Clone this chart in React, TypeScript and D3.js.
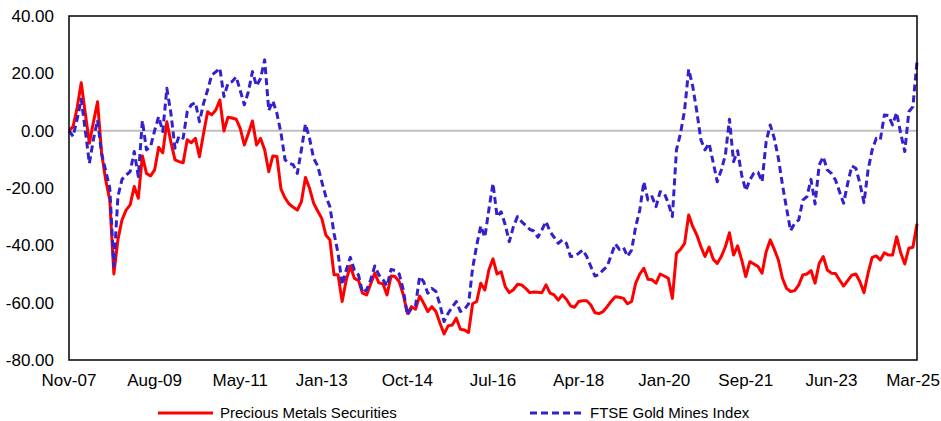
import React from 'react'
import * as d3 from 'd3'

// monthly categories Nov-07 .. Mar-25
const months: string[] = d3.timeMonth
  .range(new Date(2007, 10, 1), new Date(2025, 3, 1))
  .map(d3.timeFormat('%b-%y'))

const tickLabels = ['Nov-07', 'Aug-09', 'May-11', 'Jan-13', 'Oct-14', 'Jul-16', 'Apr-18', 'Jan-20', 'Sep-21', 'Jun-23', 'Mar-25']
const yTicks = [40, 20, 0, -20, -40, -60, -80]

const seriesNames = ['Precious Metals Securities', 'FTSE Gold Mines Index']

const preciousMetals = [
  0, 1.4, 8, 16.7, 6, -4.4, 3, 10.1, -7.9, -17.2,
  -24.2, -50, -38, -31.1, -27.7, -25.9, -19.5, -23.6, -8.8, -14.9,
  -15.8, -13.7, -5.8, -7.7, 3.1, -4, -10.2, -10.8, -11.2, -3.2,
  -4.2, -2.7, -9.1, -1, 6.6, 5.5, 7.2, 10.7, -0.1, 4.7,
  4.4, 4, 0.8, -5, -1, 3.4, -5, -2.7, -6.7, -14.3,
  -8.8, -9, -20.4, -23.5, -25.6, -26.7, -27.7, -24.8, -16.3, -20.1,
  -25.3, -28, -30.6, -36.4, -38.1, -50.3, -50.3, -59.6, -52.1, -47.2,
  -51.5, -52.2, -56.7, -57.3, -53.5, -49.7, -53.1, -53.4, -57.3, -50.7,
  -50.9, -52.7, -57.3, -63.7, -61.4, -62.3, -57.7, -60.2, -63.1, -61.4,
  -63.1, -67.2, -70.9, -68.1, -67.8, -65.4, -69.3, -69.5, -70.4, -60.4,
  -59.6, -53.2, -55.6, -48.5, -44.7, -50, -49.2, -54.4, -56.5, -55.5,
  -53.6, -53.8, -55, -56.5, -56.3, -56.4, -56.5, -53.8, -56.7, -57.3,
  -59.1, -57.3, -58.8, -61.1, -61.6, -59.6, -59.3, -59.3, -60.8, -63.5,
  -63.8, -63.1, -61.4, -59.5, -57.9, -58.1, -58.5, -60.4, -59.6, -53.2,
  -50, -48, -51.8, -52, -53.2, -50, -50.7, -51.5, -58.5, -42.8,
  -41.4, -39.3, -29.4, -33.5, -36.4, -40.5, -43.9, -40.6, -44.8, -46.3,
  -43.9, -40.5, -35.6, -43.4, -40.2, -45.1, -50.9, -45.7, -46.5, -47.4,
  -49.7, -42.2, -38.1, -41.4, -45.1, -51.5, -55, -56.1, -55.8, -53.8,
  -50.3, -50, -48.8, -53.2, -46.3, -43.9, -48.6, -49.7, -49.8, -52.1,
  -54.2, -52.3, -50.4, -50, -52.7, -56.5, -49.7, -44.2, -43.7, -45.1,
  -42.6, -43.4, -43.4, -37, -42.6, -46.5, -41, -40.7, -32.5,
]

const goldMines = [
  0, -2, 4, 11, 0, -11.4, -3, 3.7, -8, -14,
  -20, -47.4, -23, -17, -15.5, -14.3, -7.3, -16, 3.5, -6.7,
  -5.6, 0, 4.9, -0.3, 14.8, 6, -6.1, -1.8, -2.6, 6.6,
  9, 9.8, 3.1, 9.5, 14.2, 19.4, 20.5, 21.8, 11.9, 16.5,
  17.1, 18.8, 14, 9, 13.6, 20.6, 15.6, 18.3, 24.7, 7,
  10.4, 6, -0.9, -10.2, -11.4, -11.9, -14.9, -6.7, 2.3, -2.7,
  -9.6, -12.3, -17.8, -23, -26.5, -35.8, -42.8, -53.8, -48.6, -44.2,
  -48.6, -50.3, -56.5, -55.5, -52, -47.2, -50.3, -51.9, -54.2, -48.4,
  -48.8, -50, -55.6, -64.3, -62, -61, -50.9, -52.7, -56.7, -55,
  -56.1, -60.8, -66.6, -63.7, -61.5, -59.6, -63.1, -62.3, -60.4, -48,
  -40, -33.2, -37.2, -27.4, -18.4, -30, -28.3, -32.9, -38.7, -33.5,
  -30, -31.7, -33, -34.4, -35, -37.2, -34.6, -31.7, -35.2, -37.2,
  -39.3, -38.1, -39.3, -43.9, -43.8, -42.8, -41.6, -43.9, -47.4, -50.7,
  -50.2, -48.6, -47.4, -43.4, -39.5, -41.4, -40.7, -43.9, -41.6, -33.5,
  -27.7, -17.8, -24.2, -23, -26.5, -21.3, -21.8, -25.3, -30, -6.7,
  -0.9, 7.2, 21.4, 15.4, 6.6, -3.2, -6.7, -4.4, -11, -17.8,
  -13.7, -8.5, 4, -10.8, -7, -15.5, -20.9, -17.2, -14.8, -14.5,
  -17.8, -3.8, 2, -2.7, -9.6, -18.9, -27.1, -34.9, -32.3, -31.1,
  -24.2, -23, -17, -25.6, -12, -9.1, -13.7, -14.9, -17.2, -21.3,
  -25.3, -18.4, -12.3, -13.1, -18.4, -25.1, -13.7, -6.7, -2.7, -3.2,
  5.5, 5.3, 2, 6.3, -0.9, -7.3, 6.6, 8.4, 24.1,
]

const width = 941
const height = 421
const margin = { top: 16, right: 24, bottom: 61, left: 69 }
const font = 'Liberation Sans, Arial, Helvetica, sans-serif'

export default function App() {
  const x = d3.scalePoint<string>()
    .domain(months)
    .range([margin.left, width - margin.right])

  const y = d3.scaleLinear()
    .domain([-80, 40])
    .range([height - margin.bottom, margin.top])

  const line = d3.line<number>()
    .x((_, i) => x(months[i]) as number)
    .y(d => y(d))

  const x0 = margin.left
  const x1 = width - margin.right
  const yTop = y(40)
  const yBot = y(-80)

  return (
    <svg width={width} height={height} style={{ position: 'absolute', left: 0, top: 0, background: '#fff' }}>
      {/* zero line */}
      <line x1={x0} x2={x1} y1={y(0)} y2={y(0)} stroke="#c0c0c0" strokeWidth={2} />

      <path d={line(preciousMetals) || ''} fill="none" stroke="#ff0000" strokeWidth={3} strokeLinejoin="round" />
      <path d={line(goldMines) || ''} fill="none" stroke="#3322cc" strokeWidth={3} strokeDasharray="7 4" strokeLinejoin="round" />

      {/* frame */}
      <rect x={x0} y={yTop} width={x1 - x0} height={yBot - yTop} fill="none" stroke="#000" strokeWidth={1.5} />

      {yTicks.map(t => (
        <text key={t} x={54} y={y(t)} dy="0.36em" textAnchor="end" fontFamily={font} fontSize={17} fill="#000">
          {t.toFixed(2)}
        </text>
      ))}

      {tickLabels.map((t, i) => {
        const last = i === tickLabels.length - 1
        return (
          <text key={t} x={last ? width - 1 : (x(t) as number)} y={386}
            textAnchor={last ? 'end' : 'middle'} fontFamily={font} fontSize={17} fill="#000">
            {t}
          </text>
        )
      })}

      {/* legend */}
      <line x1={158} x2={213} y1={413} y2={413} stroke="#ff0000" strokeWidth={3} />
      <text x={220} y={418} fontFamily={font} fontSize={15} fill="#000">{seriesNames[0]}</text>
      <line x1={530} x2={585} y1={413} y2={413} stroke="#3322cc" strokeWidth={3} strokeDasharray="7 4" />
      <text x={590} y={418} fontFamily={font} fontSize={15} fill="#000">{seriesNames[1]}</text>
    </svg>
  )
}
